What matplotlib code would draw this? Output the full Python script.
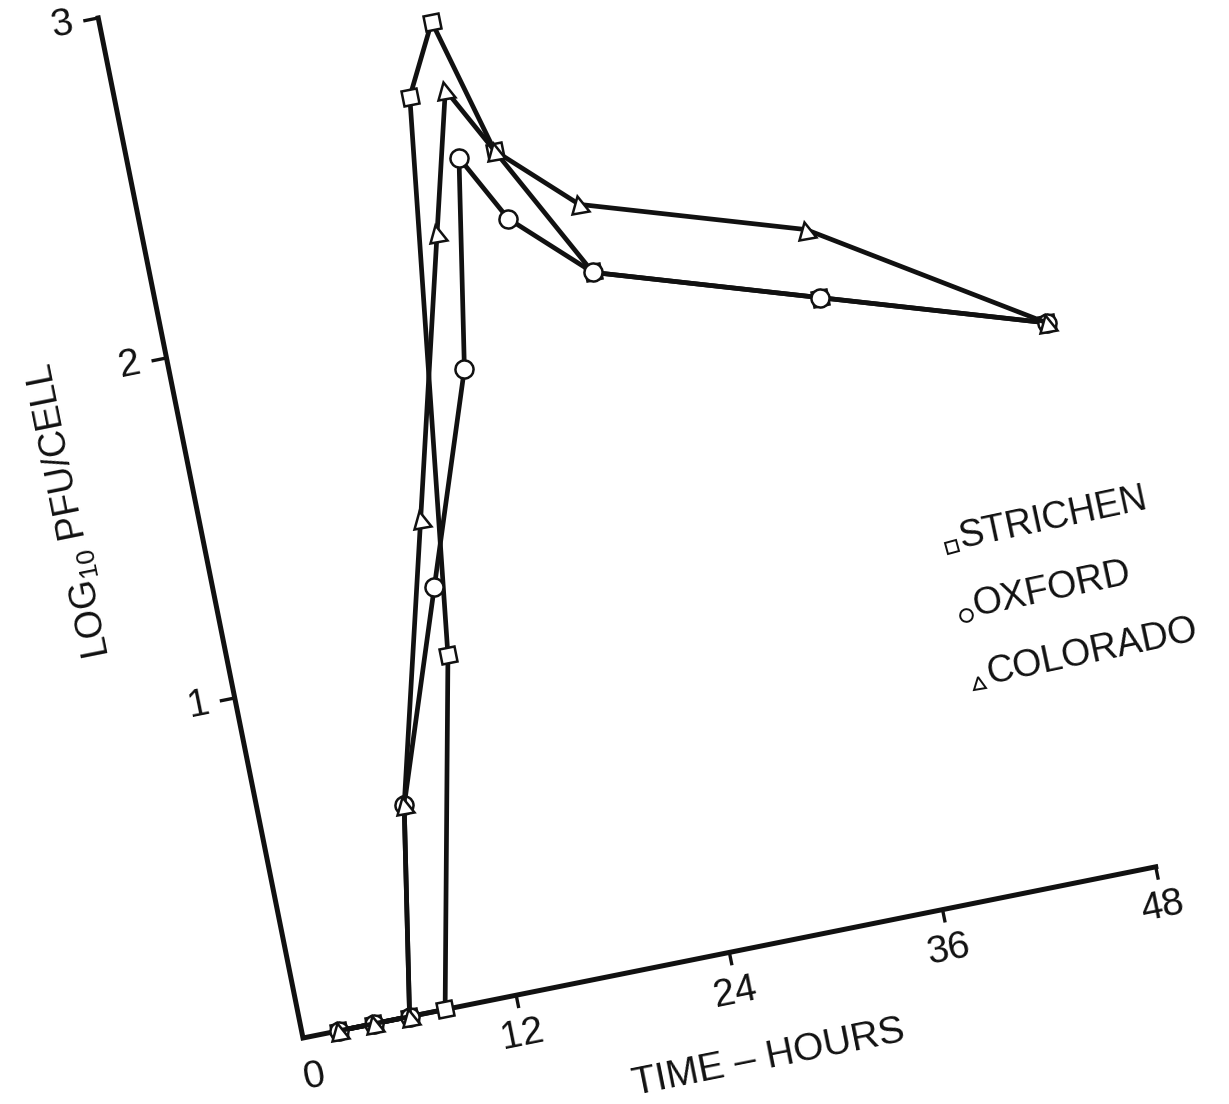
import matplotlib
matplotlib.use("Agg")
import matplotlib.pyplot as plt
from matplotlib.markers import MarkerStyle
from matplotlib.transforms import Affine2D

# growth curves, log10 PFU/cell against time (hours)
hours = [2, 4, 6, 8, 12, 16, 18, 20, 24, 36, 48]
strichen = [0, 0, 0, 0, 1.0, 2.6, 2.8, 2.4, 2.0, 1.8, 1.6]
oxford = [0, 0, 0, 0.6, 1.2, 1.8, 2.4, 2.2, 2.0, 1.8, 1.6]
colorado = [0, 0, 0, 0.6, 1.4, 2.2, 2.6, 2.4, 2.2, 2.0, 1.6]

x_ticks = [12, 24, 36, 48]
x_labels = ["0", "12", "24", "36", "48"]
y_ticks = [1, 2, 3]
names = ["STRICHEN", "OXFORD", "COLORADO"]

plt.rcParams['font.family'] = ['Liberation Sans', 'DejaVu Sans']
plt.rcParams['mathtext.default'] = 'regular'

ANGLE = 11.35  # the scanned page is tilted
INK = '#111111'

fig = plt.figure(figsize=(12.29, 11.04), dpi=100)
ax = fig.add_axes([0, 0, 1, 1])
ax.set_xlim(0, 1229)
ax.set_ylim(0, 1104)
ax.axis('off')

# data frame: hours along the tilted x axis, log units along the tilted y axis
frame = Affine2D().scale(18.12, 346.8).rotate_deg(ANGLE).translate(303, 66) + ax.transData
tilt = Affine2D().rotate_deg(ANGLE)

# axes
ax.plot([0, 0, 48], [3, 0, 0], color=INK, lw=3.6, solid_joinstyle='miter', transform=frame)
for t in x_ticks:
    ax.plot([t, t], [0, -0.033], color=INK, lw=2.4, transform=frame)
for t in y_ticks:
    ax.plot([0, -0.75], [t, t], color=INK, lw=2.4, transform=frame)

for lab in x_labels:
    h = float(lab)
    ax.text(h + (0.15 if h == 0 else -0.1), -0.117, lab, transform=frame, fontsize=28,
            rotation=ANGLE, rotation_mode='anchor', ha='center', va='center', color=INK)
for t in y_ticks:
    ax.text(-2.05, t, str(t), transform=frame, fontsize=28,
            rotation=ANGLE, rotation_mode='anchor', ha='center', va='center', color=INK)

ax.text(25, -0.32, "TIME \u2013 HOURS", transform=frame, fontsize=28,
        rotation=ANGLE, rotation_mode='anchor', ha='center', va='center', color=INK)
ax.text(-6.9, 1.19, r"LOG$_{10}$ PFU/CELL", transform=frame, fontsize=27,
        rotation=90 + ANGLE, rotation_mode='anchor', ha='left', va='center', color=INK)

# series
series = [(strichen, 's', 11.5), (oxford, 'o', 13), (colorado, '^', 12)]
for vals, m, ms in series:
    ax.plot(hours, vals, color=INK, lw=3.4, solid_joinstyle='round',
            marker=MarkerStyle(m, transform=tilt), markersize=ms,
            markerfacecolor='white', markeredgecolor=INK, markeredgewidth=1.8,
            transform=frame)

# hand-lettered key: small symbol then name
for i, ((_, m, ms), name) in enumerate(zip(series, names)):
    v = 1.04 - 0.2 * i
    ax.plot([40.45], [v - 0.02], linestyle='none',
            marker=MarkerStyle(m, transform=tilt), markersize=ms * 0.7,
            markerfacecolor='white', markeredgecolor=INK, markeredgewidth=1.4,
            transform=frame)
    ax.text(40.95, v, name, transform=frame, fontsize=27,
            rotation=12, rotation_mode='anchor', ha='left', va='center', color=INK)

fig.savefig('out.png', dpi=100)
